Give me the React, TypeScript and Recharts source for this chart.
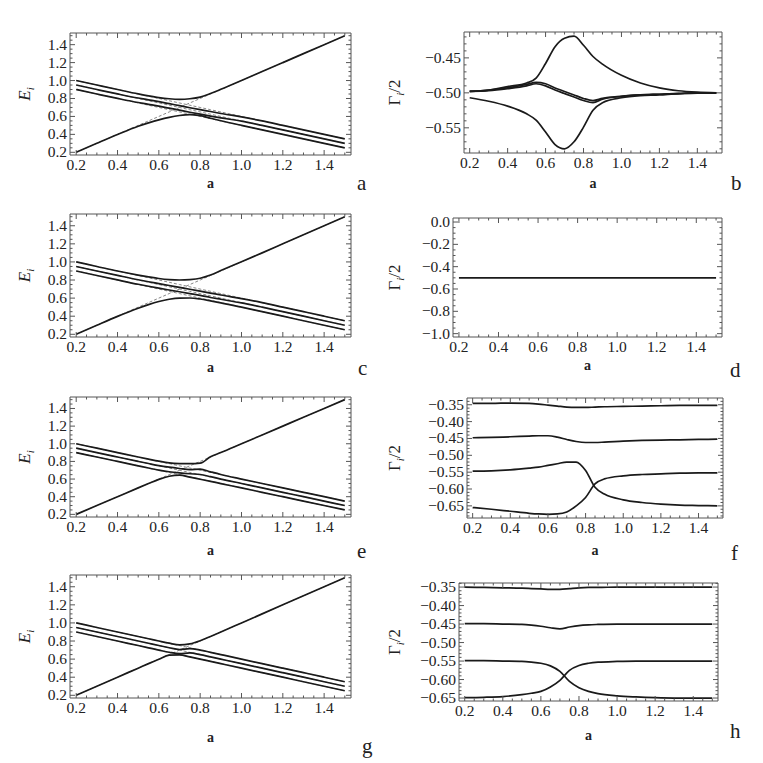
import React from "react";
import { LineChart, Line, XAxis, YAxis } from "recharts";

// coupling parameter a (shared grid for all panels)
const aVals = [0.2, 0.3, 0.4, 0.5, 0.55, 0.6, 0.65, 0.7, 0.75, 0.8, 0.85, 0.9, 1.0, 1.1, 1.2, 1.3, 1.4, 1.5];

// diabatic (dashed) levels, same in every E panel
const dia1 = [1.0, 0.95, 0.9, 0.85, 0.825, 0.8, 0.775, 0.75, 0.725, 0.7, 0.675, 0.65, 0.6, 0.55, 0.5, 0.45, 0.4, 0.35];
const dia2 = [0.95, 0.9, 0.85, 0.8, 0.775, 0.75, 0.725, 0.7, 0.675, 0.65, 0.625, 0.6, 0.55, 0.5, 0.45, 0.4, 0.35, 0.3];
const dia3 = [0.9, 0.85, 0.8, 0.75, 0.725, 0.7, 0.675, 0.65, 0.625, 0.6, 0.575, 0.55, 0.5, 0.45, 0.4, 0.35, 0.3, 0.25];
const diaA = [0.2, 0.3, 0.4, 0.5, 0.55, 0.6, 0.65, 0.7, 0.75, 0.8, 0.85, 0.9, 1.0, 1.1, 1.2, 1.3, 1.4, 1.5];

// panel a
const aE4 = [1.0, 0.95, 0.9, 0.851, 0.829, 0.81, 0.797, 0.791, 0.797, 0.815, 0.855, 0.902, 1.0, 1.1, 1.2, 1.3, 1.4, 1.5];
const aE3 = [0.95, 0.9, 0.851, 0.805, 0.785, 0.765, 0.742, 0.72, 0.697, 0.675, 0.655, 0.633, 0.595, 0.55, 0.5, 0.45, 0.4, 0.35];
const aE2 = [0.9, 0.85, 0.801, 0.755, 0.735, 0.715, 0.692, 0.67, 0.647, 0.625, 0.604, 0.584, 0.547, 0.5, 0.45, 0.4, 0.35, 0.3];
const aE1 = [0.2, 0.3, 0.398, 0.49, 0.528, 0.562, 0.59, 0.61, 0.62, 0.608, 0.58, 0.552, 0.5, 0.45, 0.4, 0.35, 0.3, 0.25];

// panel b
const bG1 = [-0.498, -0.496, -0.491, -0.486, -0.479, -0.458, -0.434, -0.422, -0.419, -0.432, -0.448, -0.459, -0.475, -0.486, -0.493, -0.497, -0.499, -0.5];
const bG2 = [-0.498, -0.496, -0.493, -0.488, -0.485, -0.487, -0.493, -0.498, -0.503, -0.508, -0.511, -0.508, -0.505, -0.503, -0.502, -0.501, -0.5, -0.5];
const bG3 = [-0.498, -0.497, -0.494, -0.49, -0.487, -0.49, -0.496, -0.501, -0.506, -0.511, -0.514, -0.509, -0.505, -0.503, -0.502, -0.501, -0.5, -0.5];
const bG4 = [-0.507, -0.512, -0.519, -0.53, -0.539, -0.556, -0.574, -0.58, -0.57, -0.549, -0.525, -0.514, -0.507, -0.504, -0.503, -0.501, -0.5005, -0.5];

// panel c
const cE4 = [1.0, 0.95, 0.9, 0.855, 0.835, 0.817, 0.805, 0.8, 0.805, 0.82, 0.855, 0.905, 1.002, 1.1, 1.2, 1.3, 1.4, 1.5];
const cE3 = [0.95, 0.9, 0.851, 0.803, 0.781, 0.76, 0.739, 0.718, 0.698, 0.677, 0.656, 0.634, 0.595, 0.55, 0.5, 0.45, 0.4, 0.35];
const cE2 = [0.9, 0.85, 0.801, 0.753, 0.731, 0.71, 0.69, 0.67, 0.65, 0.63, 0.607, 0.587, 0.547, 0.5, 0.45, 0.4, 0.35, 0.3];
const cE1 = [0.2, 0.3, 0.398, 0.488, 0.528, 0.562, 0.587, 0.6, 0.601, 0.59, 0.57, 0.548, 0.5, 0.45, 0.4, 0.35, 0.3, 0.25];

// panel d
const dG = [-0.5, -0.5, -0.5, -0.5, -0.5, -0.5, -0.5, -0.5, -0.5, -0.5, -0.5, -0.5, -0.5, -0.5, -0.5, -0.5, -0.5, -0.5];

// panel e
const eE4 = [1.0, 0.95, 0.9, 0.85, 0.826, 0.803, 0.784, 0.776, 0.774, 0.78, 0.852, 0.9, 1.0, 1.1, 1.2, 1.3, 1.4, 1.5];
const eE3 = [0.95, 0.9, 0.85, 0.8, 0.776, 0.753, 0.735, 0.72, 0.707, 0.713, 0.682, 0.652, 0.6, 0.55, 0.5, 0.45, 0.4, 0.35];
const eE2 = [0.9, 0.85, 0.8, 0.75, 0.725, 0.702, 0.683, 0.67, 0.66, 0.652, 0.627, 0.6, 0.55, 0.5, 0.45, 0.4, 0.35, 0.3];
const eE1 = [0.2, 0.3, 0.4, 0.5, 0.549, 0.597, 0.632, 0.645, 0.622, 0.598, 0.574, 0.549, 0.5, 0.45, 0.4, 0.35, 0.3, 0.25];

// panel f
const fG1 = [-0.346, -0.346, -0.345, -0.346, -0.348, -0.351, -0.354, -0.357, -0.358, -0.358, -0.357, -0.356, -0.355, -0.354, -0.353, -0.352, -0.352, -0.352];
const fG2 = [-0.448, -0.447, -0.445, -0.443, -0.442, -0.442, -0.446, -0.453, -0.459, -0.462, -0.462, -0.461, -0.458, -0.456, -0.455, -0.454, -0.453, -0.452];
const fG3 = [-0.547, -0.546, -0.543, -0.538, -0.535, -0.53, -0.525, -0.52, -0.52, -0.545, -0.595, -0.615, -0.632, -0.64, -0.645, -0.648, -0.649, -0.65];
const fG4 = [-0.655, -0.66, -0.666, -0.672, -0.674, -0.675, -0.674, -0.668, -0.65, -0.625, -0.585, -0.57, -0.561, -0.557, -0.555, -0.553, -0.552, -0.552];

// panel g
const gE4 = [1.0, 0.95, 0.9, 0.85, 0.825, 0.8, 0.776, 0.757, 0.768, 0.803, 0.851, 0.9, 1.0, 1.1, 1.2, 1.3, 1.4, 1.5];
const gE3 = [0.95, 0.9, 0.85, 0.8, 0.775, 0.75, 0.726, 0.706, 0.716, 0.7, 0.675, 0.65, 0.6, 0.55, 0.5, 0.45, 0.4, 0.35];
const gE2 = [0.9, 0.85, 0.8, 0.75, 0.725, 0.7, 0.676, 0.66, 0.668, 0.65, 0.625, 0.6, 0.55, 0.5, 0.45, 0.4, 0.35, 0.3];
const gE1 = [0.2, 0.3, 0.4, 0.5, 0.55, 0.598, 0.643, 0.647, 0.624, 0.6, 0.575, 0.55, 0.5, 0.45, 0.4, 0.35, 0.3, 0.25];

// panel h
const hG1 = [-0.35, -0.351, -0.352, -0.353, -0.354, -0.355, -0.356, -0.356, -0.354, -0.352, -0.351, -0.351, -0.35, -0.35, -0.35, -0.35, -0.35, -0.35];
const hG2 = [-0.449, -0.449, -0.45, -0.451, -0.453, -0.456, -0.46, -0.463, -0.458, -0.454, -0.452, -0.451, -0.45, -0.45, -0.45, -0.45, -0.45, -0.45];
const hG3 = [-0.549, -0.549, -0.55, -0.551, -0.553, -0.556, -0.563, -0.578, -0.605, -0.622, -0.632, -0.638, -0.644, -0.647, -0.649, -0.65, -0.65, -0.65];
const hG4 = [-0.649, -0.648, -0.646, -0.641, -0.637, -0.632, -0.62, -0.602, -0.575, -0.562, -0.556, -0.553, -0.551, -0.55, -0.55, -0.55, -0.55, -0.55];

// tick labels
const xMajor = [0.2, 0.4, 0.6, 0.8, 1.0, 1.2, 1.4];
const eMajor = [0.2, 0.4, 0.6, 0.8, 1.0, 1.2, 1.4];
const bMajor = [-0.55, -0.5, -0.45];
const dMajor = [0.0, -0.2, -0.4, -0.6, -0.8, -1.0];
const fhMajor = [-0.65, -0.6, -0.55, -0.5, -0.45, -0.4, -0.35];

const steps = (from: number, to: number, step: number) => {
  const out: number[] = [];
  for (let v = from; v <= to + 1e-9; v += step) out.push(Math.round(v * 1000) / 1000);
  return out;
};

const xAll = steps(0.2, 1.5, 0.05);
const eAll = steps(0.2, 1.5, 0.05);
const bAll = steps(-0.58, -0.42, 0.01);
const dAll = steps(-1.0, 0.0, 0.05);
const fAll = steps(-0.68, -0.34, 0.01);
const hAll = steps(-0.65, -0.34, 0.01);

const xDomain: [number, number] = [0.17, 1.53];

const FONT = "Liberation Serif";
const FRAME = "#555";
const INK = "#1a1a1a";
const EXTRA = 12; // spare room under each chart so the panel letters are not clipped

const rows = (cols: Record<string, number[]>) =>
  aVals.map((a, i) => {
    const r: Record<string, number> = { a };
    Object.keys(cols).forEach((k) => (r[k] = cols[k][i]));
    return r;
  });

const isMajor = (majors: number[], v: number) => majors.some((m) => Math.abs(m - v) < 1e-6);

const fmt1 = (v: number) => (v < -1e-9 ? "\u2212" : "") + Math.abs(v).toFixed(1);
const fmt2 = (v: number) => (v < -1e-9 ? "\u2212" : "") + Math.abs(v).toFixed(2);

const textStyle = { fontFamily: FONT, fontSize: 15.5, fill: "#222" };

const tickFn = (side: string, majors: number[], fmt?: (v: number) => string) => (props: any) => {
  const { x, y, payload } = props;
  const v = payload.value;
  const major = isMajor(majors, v);
  const len = major ? 5 : 2.5;
  if (side === "bottom") {
    return (
      <g>
        <line x1={x} y1={y} x2={x} y2={y - len} stroke={FRAME} strokeWidth={1} />
        {major && fmt ? (
          <text x={x} y={y + 15} textAnchor="middle" style={textStyle}>
            {fmt(v)}
          </text>
        ) : null}
      </g>
    );
  }
  if (side === "top") {
    return <line x1={x} y1={y} x2={x} y2={y + len} stroke={FRAME} strokeWidth={1} />;
  }
  if (side === "left") {
    return (
      <g>
        <line x1={x} y1={y} x2={x + len} y2={y} stroke={FRAME} strokeWidth={1} />
        {major && fmt ? (
          <text x={x - 3} y={y + 5} textAnchor="end" style={textStyle}>
            {fmt(v)}
          </text>
        ) : null}
      </g>
    );
  }
  return <line x1={x} y1={y} x2={x - len} y2={y} stroke={FRAME} strokeWidth={1} />;
};

type PanelDef = {
  left: number;
  top: number;
  width: number;
  height: number;
  fl: number;
  fr: number;
  ft: number;
  fb: number;
  data: Record<string, number>[];
  solid: string[];
  dashed: string[];
  yDomain: [number, number];
  yMajor: number[];
  yAll: number[];
  yFmt: (v: number) => string;
  kind: "E" | "G";
  yLabX: number;
  titleDy: number;
  letter: string;
  letX: number;
  letY: number;
};

const eData = (e4: number[], e3: number[], e2: number[], e1: number[]) =>
  rows({ dia1, dia2, dia3, diaA, e4, e3, e2, e1 });

const ePanel = {
  solid: ["e4", "e3", "e2", "e1"],
  dashed: ["dia1", "dia2", "dia3", "diaA"],
  yDomain: [0.17, 1.53] as [number, number],
  yMajor: eMajor,
  yAll: eAll,
  yFmt: fmt1,
  kind: "E" as const,
  yLabX: 30,
  left: 0,
  width: 380,
  fl: 70,
  fr: 351,
};

const panels: PanelDef[] = [
  { ...ePanel, top: 0, height: 190, ft: 33, fb: 155, data: eData(aE4, aE3, aE2, aE1), titleDy: 33, letter: "a", letX: 357, letY: 190 },
  { ...ePanel, top: 190, height: 190, ft: 24, fb: 147, data: eData(cE4, cE3, cE2, cE1), titleDy: 35, letter: "c", letX: 358, letY: 185 },
  { ...ePanel, top: 380, height: 190, ft: 17, fb: 137, data: eData(eE4, eE3, eE2, eE1), titleDy: 38, letter: "e", letX: 357, letY: 178 },
  { ...ePanel, top: 570, height: 193, ft: 5, fb: 128, data: eData(gE4, gE3, gE2, gE1), titleDy: 44, letter: "g", letX: 362, letY: 183 },
  {
    left: 380, top: 0, width: 383, height: 190, fl: 84, fr: 342, ft: 32, fb: 153,
    data: rows({ g1: bG1, g2: bG2, g3: bG3, g4: bG4 }), solid: ["g1", "g2", "g3", "g4"], dashed: [],
    yDomain: [-0.586, -0.413], yMajor: bMajor, yAll: bAll, yFmt: fmt2, kind: "G", yLabX: 20,
    titleDy: 35, letter: "b", letX: 351, letY: 190,
  },
  {
    left: 380, top: 190, width: 383, height: 190, fl: 73, fr: 342, ft: 28, fb: 147,
    data: rows({ g1: dG }), solid: ["g1"], dashed: [],
    yDomain: [-1.03, 0.036], yMajor: dMajor, yAll: dAll, yFmt: fmt1, kind: "G", yLabX: 20,
    titleDy: 33, letter: "d", letX: 350, letY: 187,
  },
  {
    left: 380, top: 380, width: 383, height: 190, fl: 87, fr: 343, ft: 18, fb: 138,
    data: rows({ g1: fG1, g2: fG2, g3: fG3, g4: fG4 }), solid: ["g1", "g2", "g3", "g4"], dashed: [],
    yDomain: [-0.686, -0.33], yMajor: fhMajor, yAll: fAll, yFmt: fmt2, kind: "G", yLabX: 20,
    titleDy: 37, letter: "f", letX: 351, letY: 180,
  },
  {
    left: 380, top: 570, width: 383, height: 193, fl: 79, fr: 338, ft: 13, fb: 131,
    data: rows({ g1: hG1, g2: hG2, g3: hG3, g4: hG4 }), solid: ["g1", "g2", "g3", "g4"], dashed: [],
    yDomain: [-0.658, -0.339], yMajor: fhMajor, yAll: hAll, yFmt: fmt2, kind: "G", yLabX: 20,
    titleDy: 39, letter: "h", letX: 350, letY: 168,
  },
];

function Panel({ p }: { p: PanelDef }) {
  const xTitle = (props: any) => {
    const vb = props.viewBox;
    return (
      <g>
        <text x={vb.x + vb.width / 2} y={vb.y + p.titleDy} textAnchor="middle" style={{ ...textStyle, fontWeight: 600, fontSize: 14 }}>
          a
        </text>
        <text x={p.letX} y={p.letY} style={{ fontFamily: FONT, fontSize: 21, fill: "#222" }}>
          {p.letter}
        </text>
      </g>
    );
  };
  const yTitle = (props: any) => {
    const vb = props.viewBox;
    const cy = vb.y + vb.height / 2;
    return (
      <text
        x={p.yLabX}
        y={cy}
        transform={`rotate(-90 ${p.yLabX} ${cy})`}
        textAnchor="middle"
        style={{ fontFamily: FONT, fontSize: 17, fill: "#222" }}
      >
        {p.kind === "E" ? (
          <>
            <tspan fontStyle="italic">E</tspan>
            <tspan fontStyle="italic" fontSize={11} dy={4}>i</tspan>
          </>
        ) : (
          <>
            <tspan>Γ</tspan>
            <tspan fontStyle="italic" fontSize={11} dy={4}>i</tspan>
            <tspan dy={-4}>/2</tspan>
          </>
        )}
      </text>
    );
  };

  return (
    <div style={{ position: "absolute", left: p.left, top: p.top }}>
      <LineChart
        width={p.width}
        height={p.height + EXTRA}
        data={p.data}
        margin={{ top: p.ft - 1, right: p.width - p.fr - 1, bottom: EXTRA, left: 0 }}
      >
        <XAxis
          xAxisId="b"
          dataKey="a"
          type="number"
          domain={xDomain}
          allowDataOverflow
          ticks={xAll}
          interval={0}
          height={p.height - p.fb}
          tickSize={0}
          tickMargin={0}
          stroke={FRAME}
          axisLine={{ stroke: FRAME, strokeWidth: 1 }}
          tickLine={false}
          tick={tickFn("bottom", xMajor, fmt1)}
          label={{ content: xTitle }}
        />
        <XAxis
          xAxisId="t"
          orientation="top"
          dataKey="a"
          type="number"
          domain={xDomain}
          allowDataOverflow
          ticks={xAll}
          interval={0}
          height={1}
          tickSize={0}
          tickMargin={0}
          stroke={FRAME}
          axisLine={{ stroke: FRAME, strokeWidth: 1 }}
          tickLine={false}
          tick={tickFn("top", xMajor)}
        />
        <YAxis
          yAxisId="l"
          type="number"
          domain={p.yDomain}
          allowDataOverflow
          ticks={p.yAll}
          interval={0}
          width={p.fl}
          tickSize={0}
          tickMargin={0}
          stroke={FRAME}
          axisLine={{ stroke: FRAME, strokeWidth: 1 }}
          tickLine={false}
          tick={tickFn("left", p.yMajor, p.yFmt)}
          label={{ content: yTitle }}
        />
        <YAxis
          yAxisId="r"
          orientation="right"
          type="number"
          domain={p.yDomain}
          allowDataOverflow
          ticks={p.yAll}
          interval={0}
          width={1}
          tickSize={0}
          tickMargin={0}
          stroke={FRAME}
          axisLine={{ stroke: FRAME, strokeWidth: 1 }}
          tickLine={false}
          tick={tickFn("right", p.yMajor)}
        />
        {p.dashed.map((k) => (
          <Line
            key={k}
            xAxisId="b"
            yAxisId="l"
            dataKey={k}
            type="linear"
            stroke="#888"
            strokeWidth={1}
            strokeDasharray="3 2"
            dot={false}
            isAnimationActive={false}
          />
        ))}
        {p.solid.map((k) => (
          <Line
            key={k}
            xAxisId="b"
            yAxisId="l"
            dataKey={k}
            type="monotone"
            stroke={INK}
            strokeWidth={1.7}
            dot={false}
            isAnimationActive={false}
          />
        ))}
      </LineChart>
    </div>
  );
}

export default function App() {
  return (
    <div style={{ position: "absolute", left: 0, top: 0, width: 763, height: 763, background: "#fff" }}>
      {panels.map((p) => (
        <Panel key={p.letter} p={p} />
      ))}
    </div>
  );
}
